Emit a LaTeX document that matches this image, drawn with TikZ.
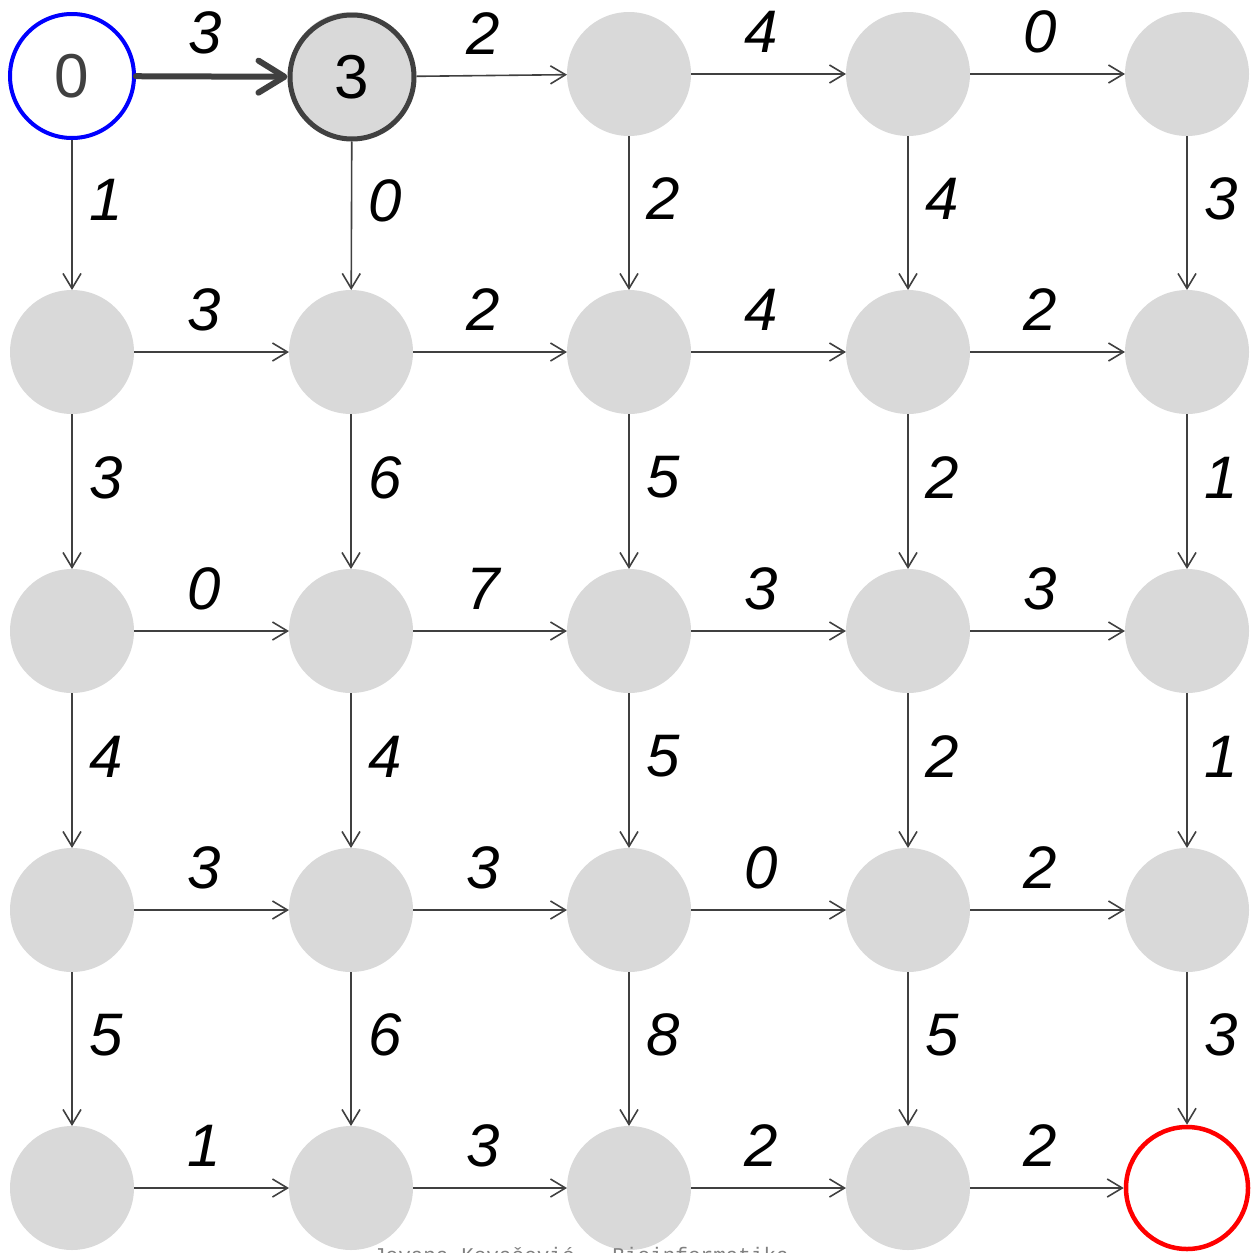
\documentclass[tikz,border=0pt]{standalone}
\usepackage{fontspec}
\setmainfont{Liberation Sans}
\newfontfamily\footfont{Liberation Mono}
\usetikzlibrary{arrows.meta,calc}
\definecolor{nodegray}{HTML}{D9D9D9}
\definecolor{edgegray}{HTML}{404040}
\begin{document}
\begin{tikzpicture}[x=1pt,y=-1pt,
  vtx/.style={circle,fill=nodegray,minimum size=124pt,inner sep=0pt,outer sep=0pt},
  edge/.style={draw=edgegray,line width=1.6pt,-{Straight Barb[length=15pt,width=18pt,line width=1.6pt]}},
  wlab/.style={font=\fontsize{60}{60}\selectfont\itshape,inner sep=0pt}
]
\useasboundingbox (0,0) rectangle (1253,1253);
\def\xs{{72,351,629,908,1187}}
\def\ys{{74,352,631,910,1188}}
% nodes
\foreach \r in {0,...,4}{
  \foreach \c in {0,...,4}{
    \pgfmathsetmacro\xx{\xs[\c]}
    \pgfmathsetmacro\yy{\ys[\r]}
    \node[vtx] (n\r\c) at (\xx,\yy) {};
  }
}
% special nodes (overlay)
\node[circle,draw=blue,line width=4pt,fill=white,minimum size=124pt,inner sep=0pt,text=edgegray,font=\fontsize{62}{62}\selectfont] (s) at (72,76) {0};
\node[circle,draw=edgegray,line width=5pt,fill=nodegray,minimum size=124pt,inner sep=0pt,font=\fontsize{62}{62}\selectfont] (t) at (352,77) {3};
\node[circle,draw=red,line width=4.5pt,fill=white,minimum size=122pt,inner sep=0pt] (e) at (1187,1188) {};
% horizontal edges
\newcommand\hedge[4]{% from to weight
  \draw[edge] (#1) -- (#2);
  \node[wlab] at ($(#1)!0.5!(#2)+(-7,-42)$) {#3};
}
\newcommand\vedge[3]{%
  \draw[edge] (#1) -- (#2);
  \node[wlab] at ($(#1)!0.5!(#2)+(34,-14)$) {#3};
}
% row 0
\draw[draw=edgegray,line width=6pt,line cap=round,-{Straight Barb[length=26pt,width=32pt,line width=6pt,round]}] (s) -- (t);
\node[wlab] at (205,33) {3};
\hedge{t}{n02}{2}{}
\hedge{n02}{n03}{4}{}
\hedge{n03}{n04}{0}{}
\hedge{n10}{n11}{3}{}
\hedge{n11}{n12}{2}{}
\hedge{n12}{n13}{4}{}
\hedge{n13}{n14}{2}{}
\hedge{n20}{n21}{0}{}
\hedge{n21}{n22}{7}{}
\hedge{n22}{n23}{3}{}
\hedge{n23}{n24}{3}{}
\hedge{n30}{n31}{3}{}
\hedge{n31}{n32}{3}{}
\hedge{n32}{n33}{0}{}
\hedge{n33}{n34}{2}{}
\hedge{n40}{n41}{1}{}
\hedge{n41}{n42}{3}{}
\hedge{n42}{n43}{2}{}
\hedge{n43}{e}{2}{}
% vertical edges
\vedge{s}{n10}{1}
\vedge{t}{n11}{0}
\vedge{n02}{n12}{2}
\vedge{n03}{n13}{4}
\vedge{n04}{n14}{3}
\vedge{n10}{n20}{3}
\vedge{n11}{n21}{6}
\vedge{n12}{n22}{5}
\vedge{n13}{n23}{2}
\vedge{n14}{n24}{1}
\vedge{n20}{n30}{4}
\vedge{n21}{n31}{4}
\vedge{n22}{n32}{5}
\vedge{n23}{n33}{2}
\vedge{n24}{n34}{1}
\vedge{n30}{n40}{5}
\vedge{n31}{n41}{6}
\vedge{n32}{n42}{8}
\vedge{n33}{n43}{5}
\vedge{n34}{e}{3}
% footer
\node[font=\footfont\fontsize{21}{21}\selectfont,text=gray,anchor=base,inner sep=0pt] (foot) at (581,1262) {Jovana Kovačević - Bioinformatika};
\end{tikzpicture}
\end{document}
